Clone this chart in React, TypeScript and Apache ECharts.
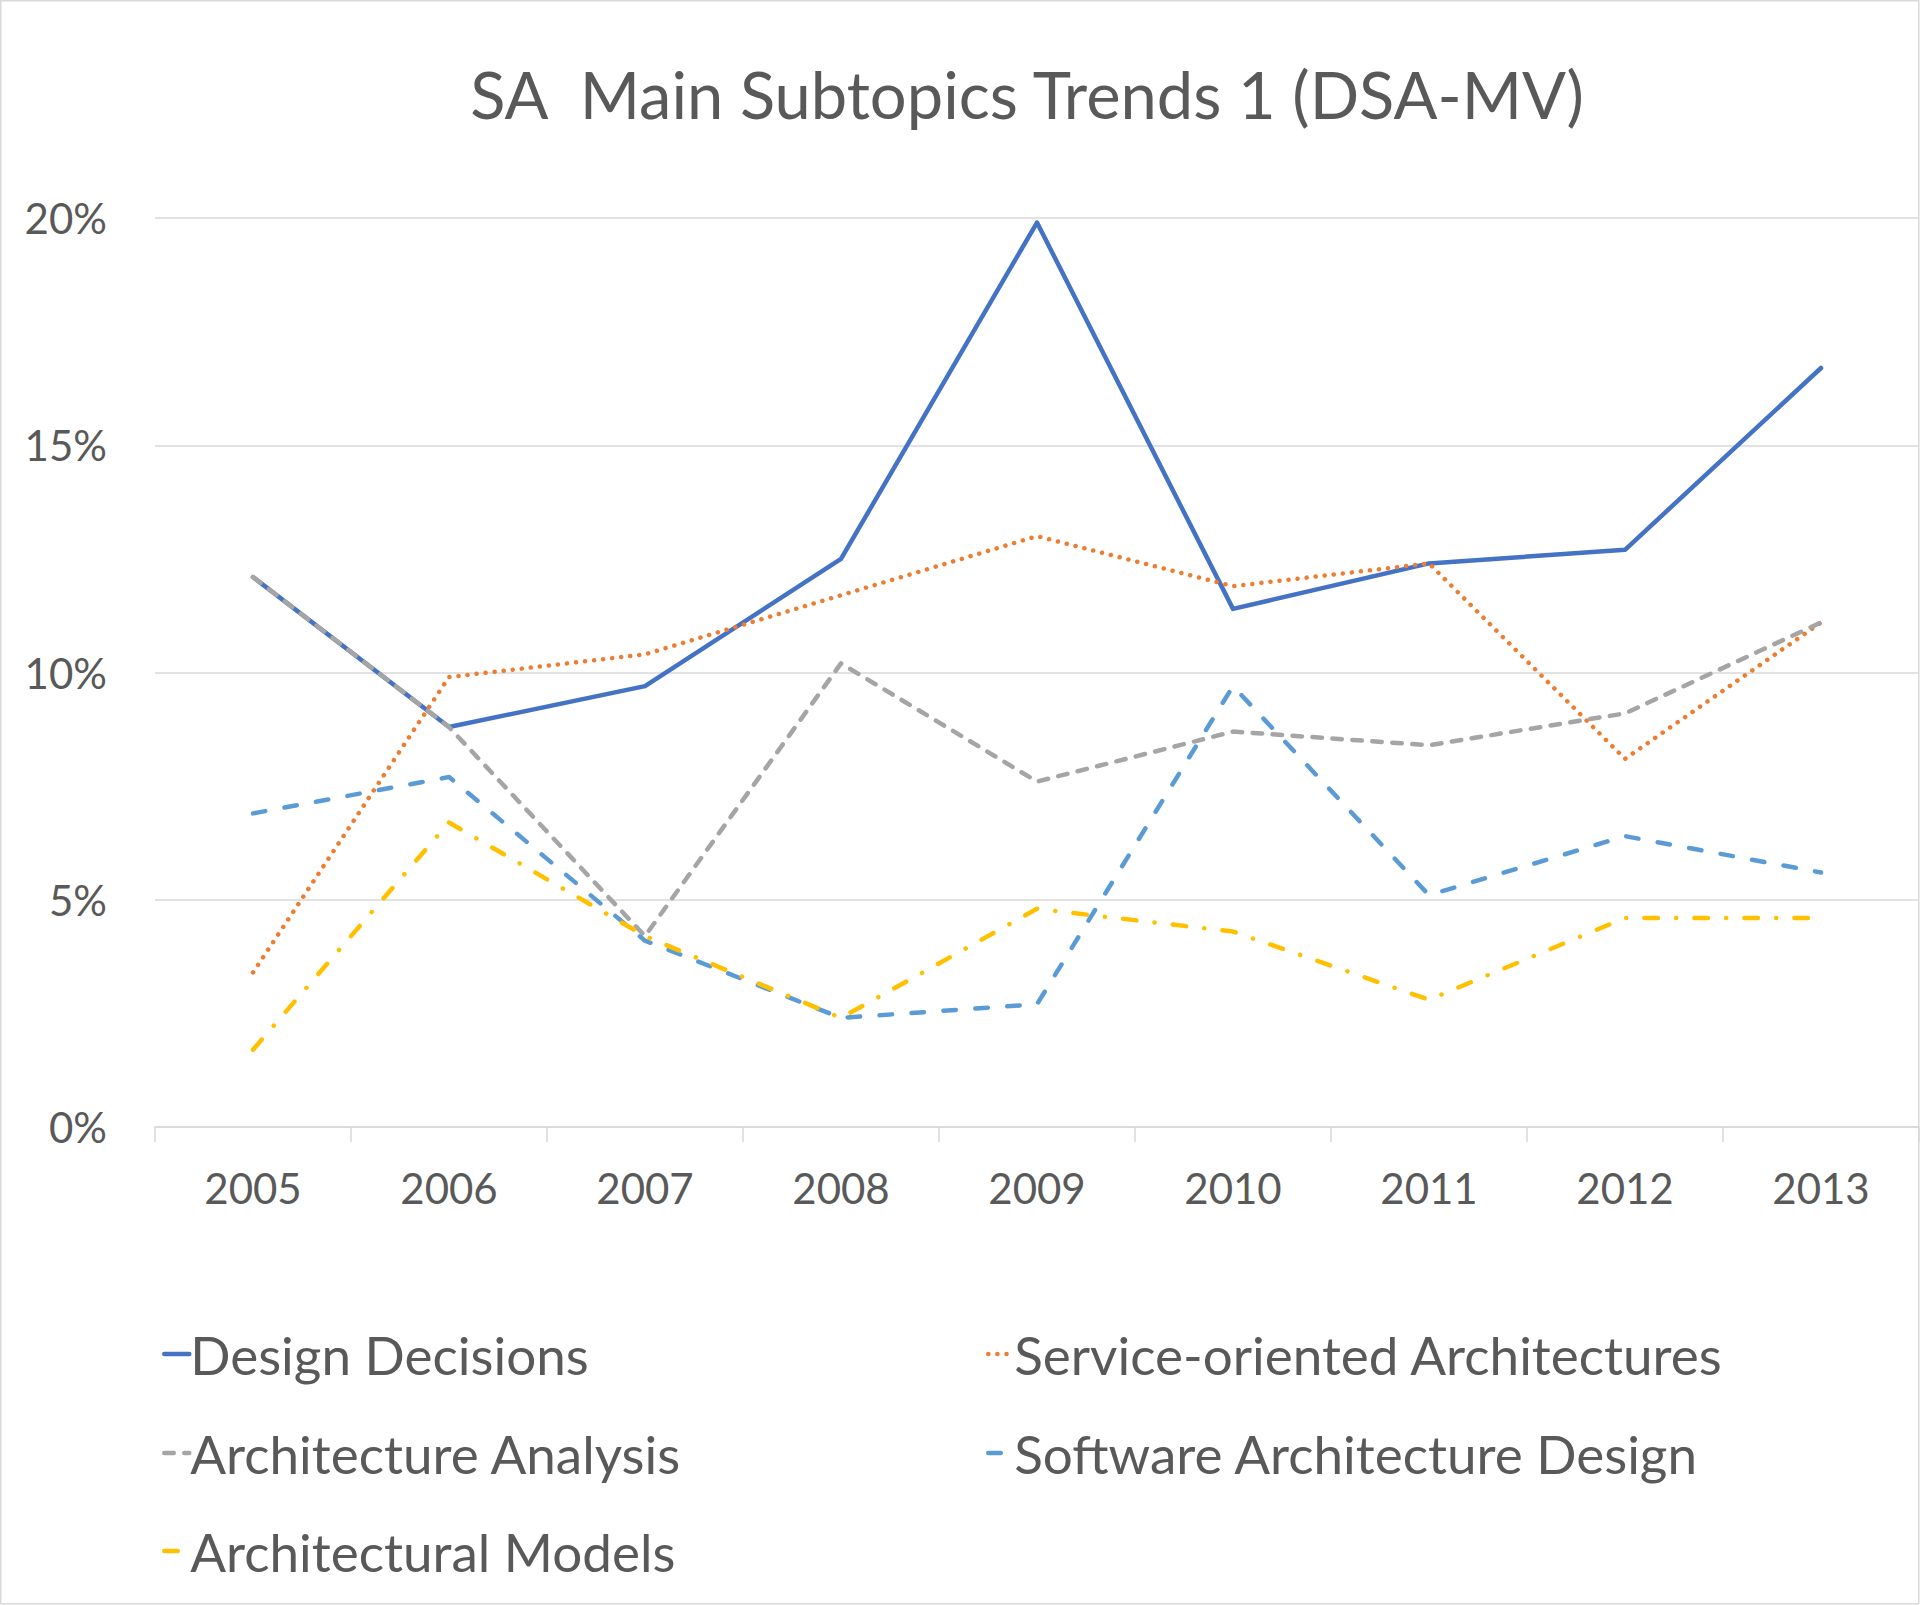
import React, { useEffect, useRef } from "react";
import * as echarts from "echarts";

const years = ["2005", "2006", "2007", "2008", "2009", "2010", "2011", "2012", "2013"];
const designDecisions = [12.1, 8.8, 9.7, 12.5, 19.9, 11.4, 12.4, 12.7, 16.7];
const serviceOriented = [3.4, 9.9, 10.4, 11.7, 13.0, 11.9, 12.4, 8.1, 11.1];
const archAnalysis = [12.1, 8.8, 4.2, 10.2, 7.6, 8.7, 8.4, 9.1, 11.1];
const swArchDesign = [6.9, 7.7, 4.1, 2.4, 2.7, 9.7, 5.1, 6.4, 5.6];
const archModels = [1.7, 6.7, 4.2, 2.4, 4.8, 4.3, 2.8, 4.6, 4.6];
const yTicks = [0, 5, 10, 15, 20];

const TITLE = "SA  Main Subtopics Trends 1 (DSA-MV)";
const FONT = "Lato, 'Open Sans', sans-serif";
const TEXT = "#595959";
const GRIDC = "#D9D9D9";

export default function App() {
  const ref = useRef<HTMLDivElement>(null);
  useEffect(() => {
    document.body.style.margin = "0";
    const chart = echarts.init(ref.current!, null, { renderer: "svg" });
    const W = 4.5;
    const mk = (name: string, data: number[], color: string, dash: any) => ({
      name,
      type: "line",
      data,
      symbol: "none",
      lineStyle: { color, width: W, type: dash, cap: "round", join: "round" },
      itemStyle: { color },
    });
    const legendBase = (name: string, left: number, cy: number) => ({
      data: [name],
      left,
      top: cy - 30,
      padding: 0,
      itemWidth: 25,
      itemHeight: 14,
      itemGap: 0,
      itemStyle: { opacity: 0 },
      lineStyle: { width: 4.5, cap: "round" },
      textStyle: { fontFamily: FONT, fontSize: 53, color: TEXT, lineHeight: 60, padding: [0, 0, 0, -4] },
    });
    chart.setOption({
      animation: false,
      backgroundColor: "#ffffff",
      textStyle: { fontFamily: FONT },
      grid: { left: 155, right: 1, top: 218, bottom: 478, containLabel: false },
      xAxis: {
        type: "category",
        data: years,
        boundaryGap: true,
        axisLine: { show: true, lineStyle: { color: GRIDC, width: 1.5 } },
        axisTick: { show: true, length: 15, lineStyle: { color: GRIDC, width: 1.5 } },
        axisLabel: { color: TEXT, fontSize: 42, fontFamily: FONT, margin: 40, lineHeight: 42 },
      },
      yAxis: {
        type: "value",
        min: yTicks[0],
        max: yTicks[yTicks.length - 1],
        interval: 5,
        axisLine: { show: false },
        axisTick: { show: false },
        splitLine: { show: true, lineStyle: { color: GRIDC, width: 1.5 } },
        axisLabel: { color: TEXT, fontSize: 42, fontFamily: FONT, margin: 48, formatter: "{value}%" },
      },
      legend: [
        legendBase("Design Decisions", 162, 1354),
        legendBase("Architecture Analysis", 162, 1453),
        legendBase("Architectural Models", 162, 1551),
        legendBase("Service-oriented Architectures", 986, 1354),
        legendBase("Software Architecture Design", 986, 1453),
      ],
      graphic: [
        {
          type: "rect",
          shape: { x: 0.75, y: 0.75, width: 1918, height: 1603 },
          style: { fill: "none", stroke: GRIDC, lineWidth: 1.5 },
          silent: true,
          z: -1,
        },
        {
          type: "text",
          x: 1027,
          y: 94,
          style: {
            text: TITLE,
            fontFamily: FONT,
            fontSize: 65,
            fill: TEXT,
            textAlign: "center",
            textVerticalAlign: "middle",
          },
        },
      ],
      series: [
        mk("Design Decisions", designDecisions, "#4472C4", "solid"),
        mk("Service-oriented Architectures", serviceOriented, "#ED7D31", [0.1, 9]),
        mk("Architecture Analysis", archAnalysis, "#A5A5A5", [9.5, 10.5]),
        mk("Software Architecture Design", swArchDesign, "#5B9BD5", [12.5, 19.5]),
        mk("Architectural Models", archModels, "#FFC000", [13.5, 18.2, 0.1, 18.2]),
      ],
    });
    return () => chart.dispose();
  }, []);
  return (
    <div
      ref={ref}
      style={{ position: "absolute", left: 0, top: 0, width: 1920, height: 1605, background: "#fff" }}
    />
  );
}
